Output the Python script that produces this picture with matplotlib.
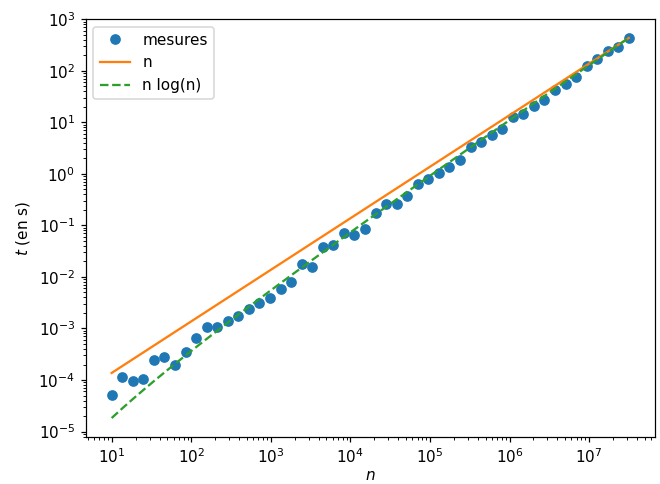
import numpy as np
import matplotlib
matplotlib.use("Agg")
import matplotlib.pyplot as plt

n = np.array([10, 13.6, 18.4, 25, 33.9, 46.1, 62.5, 84.8, 115, 156,
              212, 288, 391, 530, 720, 977, 1326, 1799, 2442, 3315,
              4499, 6105, 8286, 11247, 15264, 20717, 28118, 38162, 51795, 70297,
              95410, 129493, 175751, 238534, 323746, 439397, 596364, 809400, 1098534, 1490957,
              2023556, 2746434, 3727594, 5059213, 6866537, 9319482, 12648552, 17166979, 23299518, 31622777])
t = np.array([5.2e-5, 1.12e-4, 9.6e-5, 1.04e-4, 2.49e-4, 2.79e-4, 2.0e-4, 3.46e-4, 6.67e-4, 1.09e-3,
              1.05e-3, 1.38e-3, 1.78e-3, 2.40e-3, 3.18e-3, 3.92e-3, 5.85e-3, 8.04e-3, 1.75e-2, 1.57e-2,
              3.87e-2, 4.09e-2, 7.13e-2, 6.46e-2, 8.51e-2, 0.171, 0.255, 0.262, 0.377, 0.634,
              0.793, 1.04, 1.35, 1.85, 3.30, 4.15, 5.60, 7.48, 12.6, 14.6,
              20.9, 27.3, 41.7, 54.5, 75.2, 124, 166, 240, 294, 434])

# modèles recalés sur la dernière mesure
lin = t[-1] * n / n[-1]
nlogn = t[-1] * n * np.log(n) / (n[-1] * np.log(n[-1]))

fig, ax = plt.subplots(figsize=(6.0, 4.4), dpi=110)
fig.subplots_adjust(left=0.130, right=0.992, bottom=0.097, top=0.961)

ax.loglog(n, t, "o", label="mesures")
ax.loglog(n, lin, "-", label="n")
ax.loglog(n, nlogn, "--", label="n log(n)")

ax.set_xlabel("$n$", labelpad=1)
ax.set_ylabel("$t$ (en s)")
ax.legend(loc="upper left")

fig.savefig("out.png", dpi=110)
